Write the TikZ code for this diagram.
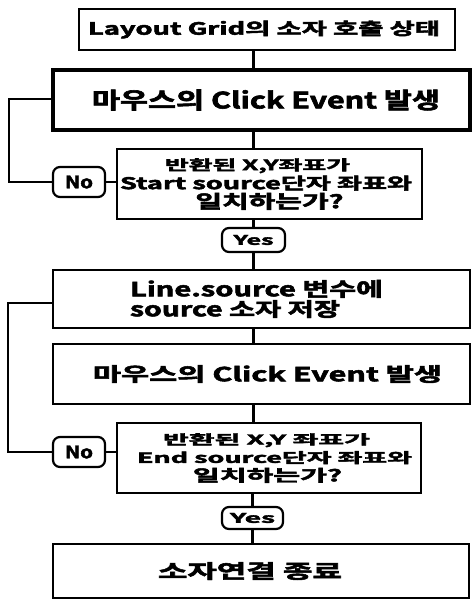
\documentclass[tikz,border=0pt]{standalone}
\usepackage{fontspec}
\usepackage{graphicx}
\newfontfamily\kb{Noto Sans CJK KR}[UprightFont={* Bold}, FakeBold=2.5]
% \tl{shift}{width}{total height}{text}
\newcommand\tl[4]{\hbox{\ifdim#1pt>0pt\kern#1pt\kern#1pt\fi\resizebox*{#2pt}{#3pt}{#4}\ifdim#1pt<0pt\kern-#1pt\kern-#1pt\fi}}
% \cstack{pitch}{lines separated by \cr}, centred; \lstack left aligned
\newcommand\cstack[2]{\vbox{\baselineskip=#1pt\lineskiplimit=-100pt\lineskip=0pt\halign{\hfil##\hfil\cr#2\crcr}}}
\newcommand\lstack[2]{\vbox{\baselineskip=#1pt\lineskiplimit=-100pt\lineskip=0pt\halign{##\hfil\cr#2\crcr}}}
\tikzset{
  box/.style={draw, line width=2.2pt, rectangle, inner sep=0pt, font=\kb\fontsize{16}{16}\selectfont},
  thickbox/.style={box, line width=3.4pt},
  pill/.style={draw, line width=2.2pt, rectangle, rounded corners=7pt, inner sep=0pt, font=\kb\fontsize{13}{13}\selectfont},
  conn/.style={line width=2.2pt},
}
\begin{document}
\begin{tikzpicture}[x=1pt,y=-1pt]
\useasboundingbox (0,0) rectangle (471,601);
\node[box, minimum width=376pt, minimum height=41pt] (b1) at (267,29.5) {\tl{-3}{352}{18}{Layout Grid의 소자 호출 상태}};
\node[thickbox, minimum width=417pt, minimum height=60pt] (b2) at (261.5,100) {\tl{4.5}{348}{21}{마우스의 Click Event 발생}};
\node[box, minimum width=305pt, minimum height=70pt] (d1) at (269.5,184) {\cstack{19}{\tl{-12}{185}{15}{반환된 X,Y좌표가}\cr\tl{-3.5}{292}{15}{Start source단자 좌표와}\cr\tl{0}{148}{17}{일치하는가?}}};
\node[pill, minimum width=63pt, minimum height=24pt] (y1) at (253.5,240) {\tl{0}{40}{10}{Yes}};
\node[box, minimum width=417pt, minimum height=58pt] (b4) at (261.5,299) {\hbox{\lstack{20}{\tl{0}{253}{18}{Line.source 변수에}\cr\tl{0}{210}{18}{source 소자 저장}}\kern10pt}};
\node[box, minimum width=417pt, minimum height=60pt] (b5) at (261.5,374) {\tl{6}{349}{18}{마우스의 Click Event 발생}};
\node[box, minimum width=304pt, minimum height=70pt] (d2) at (269,458) {\cstack{18.5}{\tl{-2.5}{207}{14}{반환된 X,Y 좌표가}\cr\tl{5.5}{275}{13}{End source단자 좌표와}\cr\tl{-1.5}{149}{15}{일치하는가?}}};
\node[pill, minimum width=61pt, minimum height=22pt] (y2) at (252.5,518) {\tl{0}{45}{10}{Yes}};
\node[box, minimum width=416pt, minimum height=54pt] (b7) at (261,571) {\tl{-11}{184}{18}{소자연결 종료}};
\node[pill, minimum width=52pt, minimum height=30pt] (n1) at (79,182) {\tl{0}{28}{13}{No}};
\node[pill, minimum width=52pt, minimum height=30pt] (n2) at (79,452) {\tl{0}{28}{13}{No}};
\coordinate (c1) at (9,99);
\coordinate (c2) at (8,303);
\draw[conn] (b1.south -| y1.center) -- (b2.north -| y1.center);
\draw[conn] (b2.south -| y1.center) -- (d1.north -| y1.center);
\draw[conn] (d1.south -| y1.center) -- (y1.north);
\draw[conn] (y1.south) -- (b4.north -| y1.center);
\draw[conn] (b4.south -| y1.center) -- (b5.north -| y1.center);
\draw[conn] (b5.south -| y1.center) -- (d2.north -| y1.center);
\draw[conn] (d2.south -| y2.center) -- (y2.north);
\draw[conn] (y2.south) -- (b7.north -| y2.center);
\draw[conn] (d1.west |- n1.east) -- (n1.east);
\draw[conn] (n1.west) -- (c1 |- n1.west) -- (c1) -- (c1 -| b2.west);
\draw[conn] (d2.west |- n2.east) -- (n2.east);
\draw[conn] (n2.west) -- (c2 |- n2.west) -- (c2) -- (c2 -| b4.west);
\end{tikzpicture}
\end{document}
